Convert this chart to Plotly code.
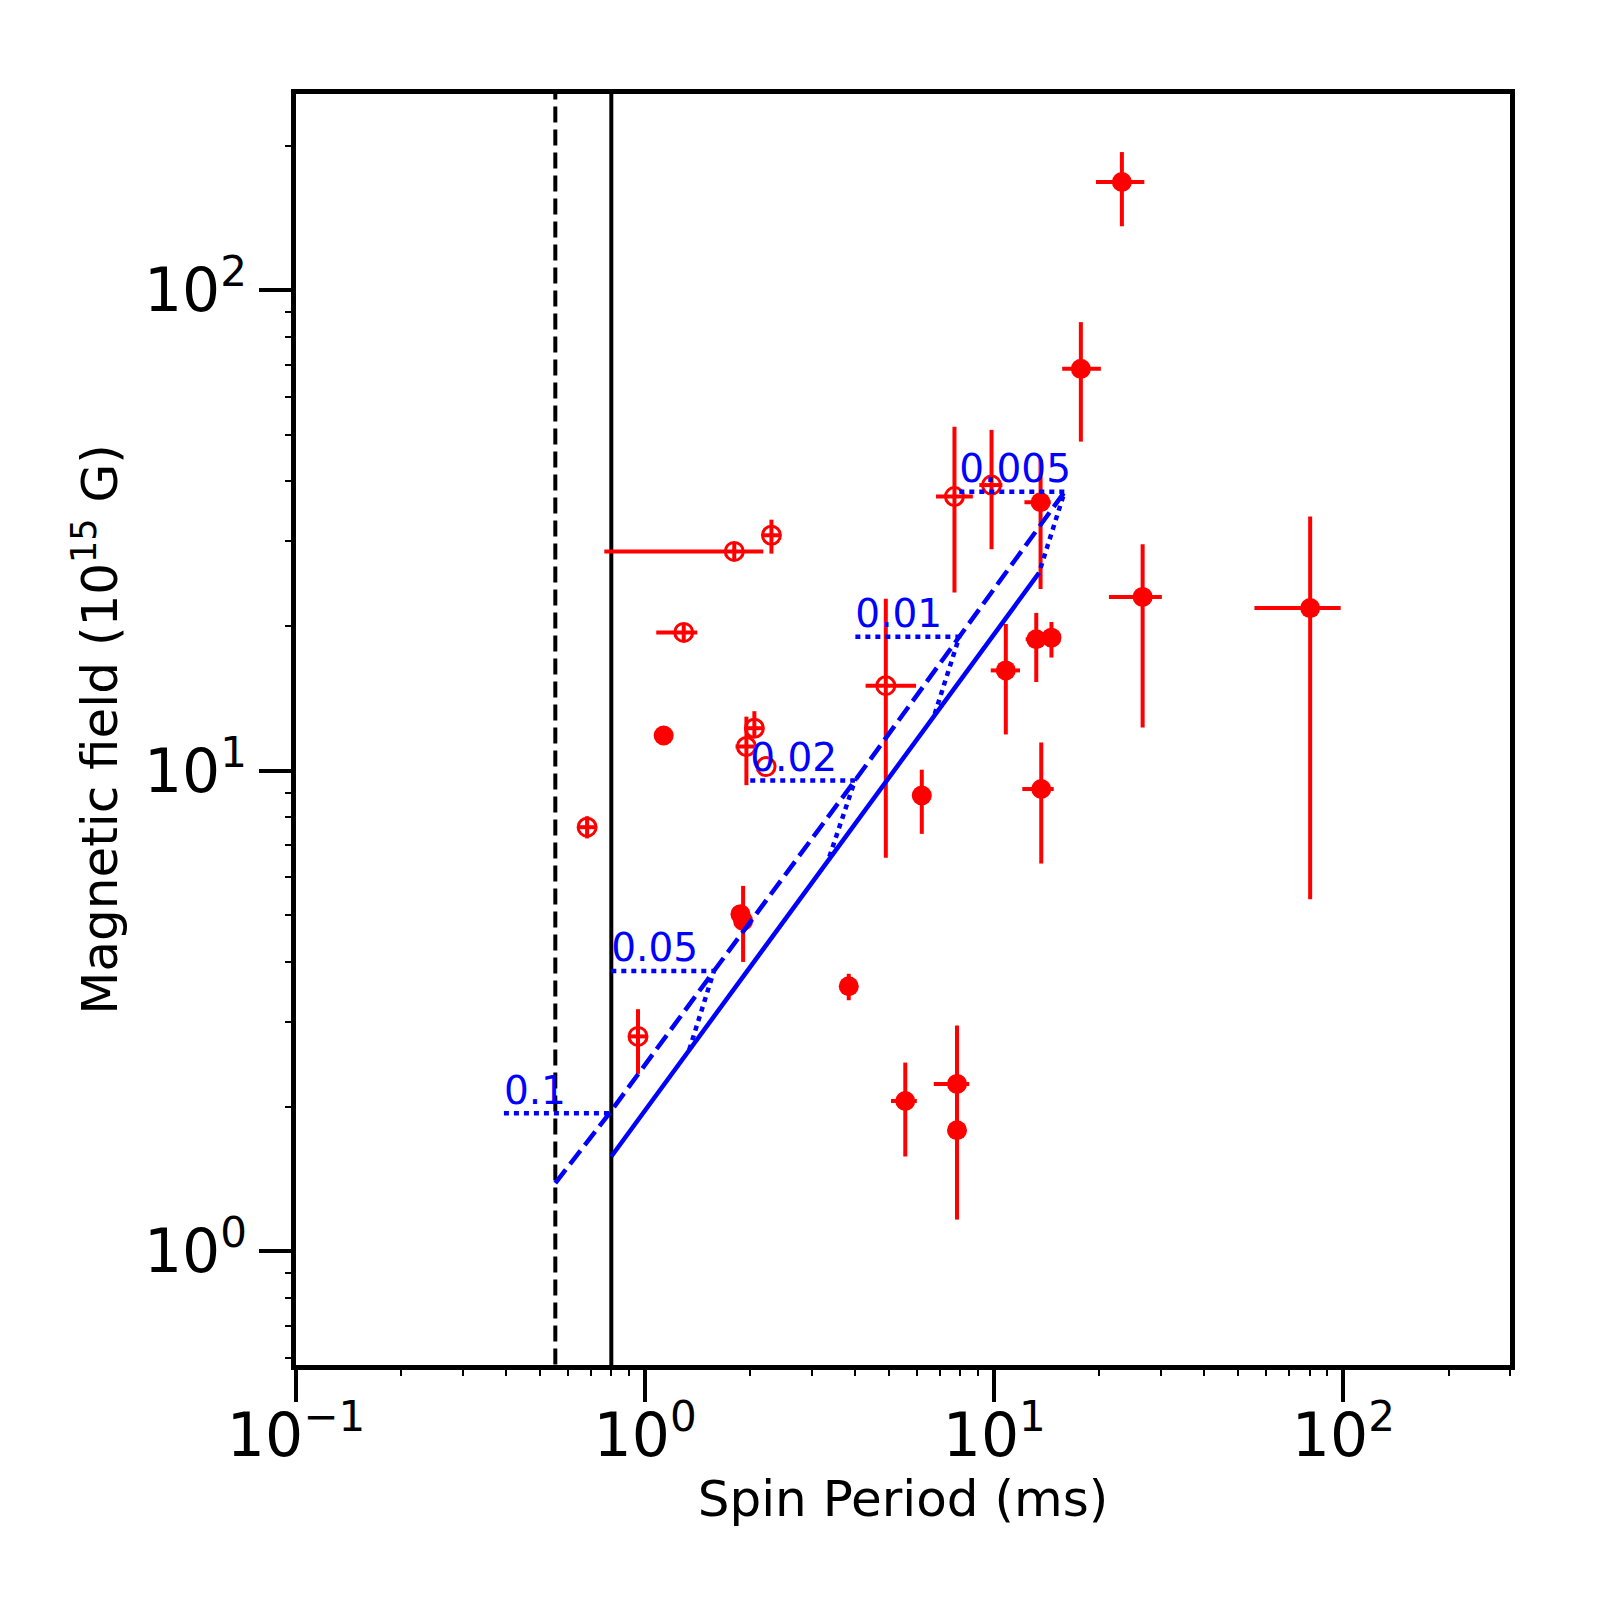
import plotly.graph_objects as go

# --- observed sources (spin period in ms, field in 1e15 G) ---
# filled symbols
filled_P = [1.13, 1.875, 1.908, 3.83, 5.56, 6.20, 7.82, 7.82, 10.79, 13.19, 14.58, 13.63, 13.57, 17.7, 23.2, 26.6, 80.3]
filled_P_lo = [1.13, 1.875, 1.908, 3.83, 5.06, 6.20, 6.71, 7.82, 9.77, 12.3, 14.58, 12.03, 12.2, 15.65, 19.55, 21.3, 55.6]
filled_P_hi = [1.13, 1.875, 1.908, 3.83, 6.0, 6.20, 8.48, 7.82, 11.85, 14.0, 14.58, 14.8, 14.5, 20.2, 26.9, 30.2, 98.2]
filled_B = [11.84, 5.03, 4.87, 3.56, 2.055, 8.88, 2.23, 1.786, 16.17, 18.78, 18.92, 9.16, 36.2, 68.6, 167.9, 23.0, 21.8]
filled_B_lo = [11.84, 5.03, 4.0, 3.33, 1.575, 7.39, 1.9, 1.164, 11.9, 15.3, 17.2, 6.41, 23.9, 48.4, 135.8, 12.3, 5.40]
filled_B_hi = [11.84, 5.03, 5.76, 3.78, 2.47, 10.05, 2.95, 2.1, 20.2, 21.3, 20.4, 11.45, 44.5, 85.8, 193.8, 29.6, 33.8]

# open symbols
open_P = [0.682, 0.954, 1.29, 1.80, 2.30, 1.95, 2.055, 2.22, 4.89, 7.69, 9.82]
open_P_lo = [0.645, 0.90, 1.076, 0.764, 2.17, 1.815, 1.94, 2.22, 4.28, 6.81, 9.06]
open_P_hi = [0.72, 1.01, 1.41, 2.18, 2.43, 2.09, 2.18, 2.22, 5.97, 8.68, 10.55]
open_B = [7.63, 2.80, 19.4, 28.6, 30.9, 11.23, 12.26, 10.2, 15.03, 37.2, 39.3]
open_B_lo = [7.23, 2.34, 18.6, 27.4, 28.3, 9.33, 11.8, 10.2, 6.59, 23.5, 28.9]
open_B_hi = [8.04, 3.19, 20.2, 29.8, 33.3, 12.96, 13.3, 10.2, 22.8, 52.0, 51.2]

# --- model curves ---
dash_P = [0.553, 0.790, 1.574, 3.99, 7.94, 15.9]
dash_B = [1.387, 1.937, 3.83, 9.54, 19.0, 38.05]
solid_P = [0.80, 1.336, 3.35, 6.74, 13.43]
solid_B = [1.575, 2.62, 6.54, 13.07, 25.8]

spin_labels = ["0.1", "0.05", "0.02", "0.01", "0.005"]
guide_start_P = [0.394, 0.80, 2.0, 4.0, 7.94]

# vertical limits (dashed, solid)
limit_P = [0.553, 0.80]

x_ticks = [0.1, 1, 10, 100]
x_ticktext = ["10<sup>\u22121</sup>", "10<sup>0</sup>", "10<sup>1</sup>", "10<sup>2</sup>"]
y_ticks = [1, 10, 100]
y_ticktext = ["10<sup>0</sup>", "10<sup>1</sup>", "10<sup>2</sup>"]
x_minor = [d * 10.0 ** e for e in (-1, 0, 1) for d in range(2, 10)] + [200, 300]
y_minor = [d * 10.0 ** e for e in (-1, 0, 1) for d in range(2, 10)] + [200]

RED = "#ff0000"
BLUE = "#0000ff"
FONT = "DejaVu Sans"


def errs(val, lo, hi):
    plus = [h - v for v, h in zip(val, hi)]
    minus = [v - l for v, l in zip(val, lo)]
    return plus, minus


fig = go.Figure()

# vertical limit lines
fig.add_trace(go.Scatter(x=[limit_P[0], limit_P[0]], y=[0.3, 500], mode="lines",
                         line=dict(color="black", width=4, dash="16px,7px"), showlegend=False))
fig.add_trace(go.Scatter(x=[limit_P[1], limit_P[1]], y=[0.3, 500], mode="lines",
                         line=dict(color="black", width=4), showlegend=False))

# data points
fp, fm = errs(filled_P, filled_P_lo, filled_P_hi)
bp, bm = errs(filled_B, filled_B_lo, filled_B_hi)
fig.add_trace(go.Scatter(
    x=filled_P, y=filled_B, mode="markers",
    marker=dict(symbol="circle", size=20, color=RED),
    error_x=dict(type="data", symmetric=False, array=fp, arrayminus=fm, width=0, thickness=4, color=RED),
    error_y=dict(type="data", symmetric=False, array=bp, arrayminus=bm, width=0, thickness=4, color=RED),
    showlegend=False))

op, om = errs(open_P, open_P_lo, open_P_hi)
obp, obm = errs(open_B, open_B_lo, open_B_hi)
fig.add_trace(go.Scatter(
    x=open_P, y=open_B, mode="markers",
    marker=dict(symbol="circle-open", size=18, color=RED, line=dict(width=3, color=RED)),
    error_x=dict(type="data", symmetric=False, array=op, arrayminus=om, width=0, thickness=4, color=RED),
    error_y=dict(type="data", symmetric=False, array=obp, arrayminus=obm, width=0, thickness=4, color=RED),
    showlegend=False))

# model curves
fig.add_trace(go.Scatter(x=dash_P, y=dash_B, mode="lines",
                         line=dict(color=BLUE, width=4.5, dash="17px,7px"), showlegend=False))
fig.add_trace(go.Scatter(x=solid_P, y=solid_B, mode="lines",
                         line=dict(color=BLUE, width=4.5), showlegend=False))

# dotted guides for each spin value
for i, lab in enumerate(spin_labels):
    gx = [guide_start_P[i], dash_P[i + 1]]
    gy = [dash_B[i + 1], dash_B[i + 1]]
    if i > 0:
        gx.append(solid_P[i])
        gy.append(solid_B[i])
    fig.add_trace(go.Scatter(x=gx, y=gy, mode="lines",
                             line=dict(color=BLUE, width=4.5, dash="5px,5px"), showlegend=False))

fig.add_trace(go.Scatter(x=guide_start_P, y=dash_B[1:], mode="text", text=spin_labels,
                         textposition="top right", textfont=dict(family=FONT, size=39, color=BLUE),
                         showlegend=False, cliponaxis=False))

axis_common = dict(
    type="log", showline=True, linewidth=5, linecolor="black", mirror=True,
    ticks="outside", ticklen=32, tickwidth=4, tickcolor="black",
    tickfont=dict(family=FONT, size=60, color="black"),
    showgrid=False, zeroline=False,
)

fig.update_xaxes(
    **axis_common,
    range=[-1, 2.4771],
    tickmode="array", tickvals=x_ticks, ticktext=x_ticktext,
    ticklabelstandoff=-18,
    minor=dict(tickmode="array", tickvals=x_minor, ticks="outside", ticklen=6, tickwidth=2, tickcolor="black", showgrid=False),
    title=dict(text="Spin Period (ms)", font=dict(family=FONT, size=50, color="black"), standoff=8),
)
fig.update_yaxes(
    **axis_common,
    range=[-0.2366, 2.4082],
    tickmode="array", tickvals=y_ticks, ticktext=y_ticktext,
    minor=dict(tickmode="array", tickvals=y_minor, ticks="outside", ticklen=6, tickwidth=2, tickcolor="black", showgrid=False),
    title=dict(text="Magnetic field (10<sup>15</sup> G)", font=dict(family=FONT, size=50, color="black"), standoff=12),
)

fig.update_layout(
    width=1600, height=1600,
    margin=dict(l=288, r=98, t=86, b=243, autoexpand=False),
    plot_bgcolor="white", paper_bgcolor="white",
    font=dict(family=FONT),
)

fig.write_html("out.html")
